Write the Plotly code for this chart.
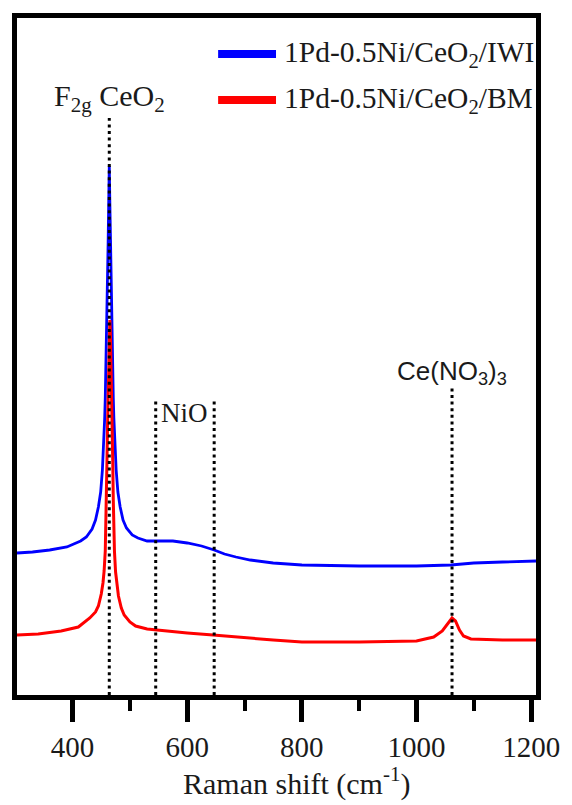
import plotly.graph_objects as go

# ---- data (intensity in arbitrary units) ----
iwi_shift = [303, 330, 360, 390, 414, 424, 434, 440, 445, 449, 452, 454, 456, 457, 458, 459, 460,
             461, 462, 463, 464, 465, 466, 467, 468, 469, 470, 471, 472, 474, 476, 479, 483,
             488, 494, 504, 514, 530, 550, 575, 600, 625, 647, 665, 685, 710, 750, 800, 900,
             1000, 1060, 1100, 1150, 1209]
iwi_int = [142, 143, 145, 148, 154, 158, 166, 175, 188, 203, 225, 247, 277, 297, 322, 350, 382,
           415, 452, 492, 529, 492, 452, 415, 382, 350, 322, 297, 277, 247, 225, 203, 188,
           175, 167, 160, 157, 154, 154, 154, 152, 149, 145, 141, 138, 135, 132, 130, 129,
           129, 130, 132, 133, 134]

bm_shift = [303, 340, 380, 410, 430, 440, 445, 450, 453, 455, 457, 458, 459, 460, 461, 462, 463,
            464, 465, 466, 467, 468, 469, 470, 471, 472, 473, 475, 477, 480, 485, 490, 500,
            510, 530, 560, 600, 645, 700, 750, 800, 900, 1000, 1030, 1045, 1055, 1062, 1068,
            1075, 1082, 1095, 1150, 1209]
bm_int = [60, 61, 64, 68, 77, 83, 89, 101, 112, 124, 144, 165, 195, 235, 270, 305, 335,
          360, 375, 360, 335, 305, 270, 235, 195, 165, 144, 123, 111, 99, 87, 80, 73,
          69, 66, 64, 62, 60, 57, 55, 53, 53, 54, 58, 64, 72, 77, 74,
          65, 59, 56, 55, 55]

legend_names = ["1Pd-0.5Ni/CeO<sub>2</sub>/IWI", "1Pd-0.5Ni/CeO<sub>2</sub>/BM"]
colors = ["#0000ff", "#ff0000"]

ref_lines = [464, 545, 647, 1062]          # dotted marker positions (cm-1)
ref_tops = [577, 295, 295, 307]             # top of each dotted marker
labels = ["F<sub>2g</sub> CeO<sub>2</sub>", "NiO", "Ce(NO<sub>3</sub>)<sub>3</sub>"]
label_x = [464, 596, 1062]
label_y = [597, 282, 323]

x_ticks = [400, 600, 800, 1000, 1200]
x_minor = [500, 700, 900, 1100]
x_range = [303, 1208.5]
y_range = [0, 677]
x_title = "Raman shift (cm<sup>-1</sup>)"

serif = "Liberation Serif, Times New Roman, serif"
sans = "Liberation Sans, Arial, sans-serif"
ink = "#1a1a1a"

fig = go.Figure()
fig.add_trace(go.Scatter(x=iwi_shift, y=iwi_int, mode="lines", name=legend_names[0],
                         line=dict(color=colors[0], width=2.8), showlegend=False))
fig.add_trace(go.Scatter(x=bm_shift, y=bm_int, mode="lines", name=legend_names[1],
                         line=dict(color=colors[1], width=3), showlegend=False))

for xv, top in zip(ref_lines, ref_tops):
    fig.add_shape(type="line", xref="x", yref="y", x0=xv, x1=xv, y0=0, y1=top,
                  line=dict(color="black", width=3, dash="3px,3.6px"), layer="above")

fonts = [serif, serif, sans]
sizes = [30, 27, 26]
for t, xv, yv, f, s in zip(labels, label_x, label_y, fonts, sizes):
    fig.add_annotation(x=xv, y=yv, xref="x", yref="y", text=t, showarrow=False,
                       font=dict(family=f, size=s, color=ink), xanchor="center", yanchor="middle")

leg_y = [54, 100]
for name, col, py in zip(legend_names, colors, leg_y):
    yp = 1 - (py - 18) / 677.0
    fig.add_shape(type="line", xref="paper", yref="paper",
                  x0=(222 - 17) / 529.0, x1=(281 - 17) / 529.0, y0=yp, y1=yp,
                  line=dict(color=col, width=8))
    fig.add_annotation(x=(287 - 17) / 529.0, y=yp, xref="paper", yref="paper", text=name,
                       showarrow=False, xanchor="left", yanchor="middle",
                       font=dict(family=serif, size=29.5, color=ink))

# x-axis title (sits slightly right of centre in the reference)
fig.add_annotation(x=(302 - 17) / 529.0, y=-(782 - 695) / 677.0, xref="paper", yref="paper",
                   text=x_title, showarrow=False, xanchor="center", yanchor="middle",
                   font=dict(family=serif, size=30, color=ink))

fig.update_layout(
    width=572, height=805,
    margin=dict(l=17, r=26, t=18, b=110),
    paper_bgcolor="white", plot_bgcolor="white",
    showlegend=False,
    font=dict(family=serif),
    xaxis=dict(range=x_range, tickvals=x_ticks, ticktext=[str(v) for v in x_ticks],
               showline=True, linewidth=5, linecolor="black", mirror=True,
               ticks="outside", ticklen=22, tickwidth=5, tickcolor="black",
               minor=dict(tickvals=x_minor, ticks="outside", ticklen=11,
                          tickwidth=4, tickcolor="black"),
               showgrid=False, zeroline=False,
               tickfont=dict(family=serif, size=29, color=ink)),
    yaxis=dict(range=y_range, showline=True, linewidth=5, linecolor="black", mirror=True,
               showticklabels=False, ticks="", showgrid=False, zeroline=False),
)

fig.write_html("out.html")
